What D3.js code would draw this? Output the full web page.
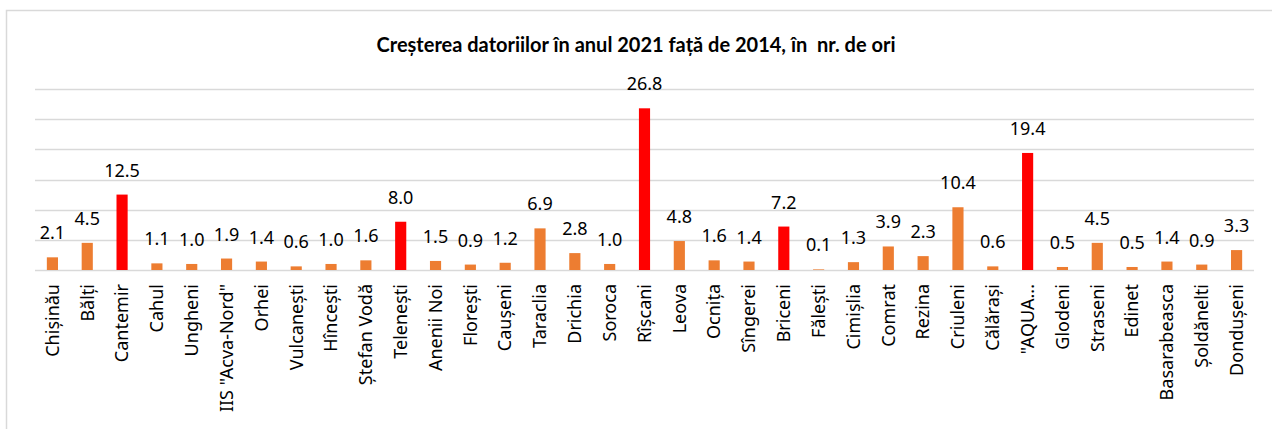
<!DOCTYPE html>
<html>
<head>
<meta charset="utf-8">
<script src="https://cdn.jsdelivr.net/npm/d3@7"></script>
<style>
  html, body { margin: 0; padding: 0; background: #fff; }
  svg { display: block; }
</style>
</head>
<body>
<svg id="chart" width="1272" height="429"></svg>
<script>
// Debt growth 2021 vs 2014, times (by water operator)
const categories = [
  "Chișinău", "Bălți", "Cantemir", "Cahul", "Ungheni", "IIS \"Acva-Nord\"", "Orhei",
  "Vulcanești", "Hîncești", "Ștefan Vodă", "Telenești", "Anenii Noi", "Florești",
  "Caușeni", "Taraclia", "Drichia", "Soroca", "Rîșcani", "Leova", "Ocnița", "Sîngerei",
  "Briceni", "Fălești", "Cimișlia", "Comrat", "Rezina", "Criuleni", "Călărași",
  "\"AQUA...", "Glodeni", "Straseni", "Edinet", "Basarabeasca", "Șoldănelti", "Dondușeni"
];
const values = [
  2.1, 4.5, 12.5, 1.1, 1.0, 1.9, 1.4,
  0.6, 1.0, 1.6, 8.0, 1.5, 0.9,
  1.2, 6.9, 2.8, 1.0, 26.8, 4.8, 1.6, 1.4,
  7.2, 0.1, 1.3, 3.9, 2.3, 10.4, 0.6,
  19.4, 0.5, 4.5, 0.5, 1.4, 0.9, 3.3
];
// Operators highlighted in red
const highlighted = ["Cantemir", "Telenești", "Rîșcani", "Briceni", "\"AQUA..."];
const yTicks = [0, 5, 10, 15, 20, 25, 30];
const title = "Creșterea datoriilor în anul 2021 față de 2014, în  nr. de ori";

const svg = d3.select("#chart");
const W = 1272, H = 429;
const plot = { left: 35, right: 1254, top: 89, bottom: 270 };
const labelFont = "'Noto Sans', 'Open Sans', sans-serif";

// Chart frame
svg.append("rect")
  .attr("x", 6.5).attr("y", 10.5)
  .attr("width", W + 10).attr("height", H + 10)
  .attr("fill", "#fff")
  .attr("stroke", "#d9d9d9").attr("stroke-width", 1.5);

const x = d3.scaleBand()
  .domain(categories)
  .range([plot.left, plot.right])
  .paddingInner(0.68).paddingOuter(0.34);

const y = d3.scaleLinear()
  .domain([0, 30])
  .range([plot.bottom, plot.top]);

// Horizontal gridlines
svg.append("g")
  .selectAll("line")
  .data(yTicks)
  .join("line")
  .attr("x1", plot.left).attr("x2", plot.right)
  .attr("y1", d => Math.round(y(d)) + 0.5).attr("y2", d => Math.round(y(d)) + 0.5)
  .attr("stroke", "#d9d9d9").attr("stroke-width", 1.5);

// Title
svg.append("text")
  .attr("x", 636).attr("y", 52)
  .attr("text-anchor", "middle")
  .attr("font-family", "Lato, 'Open Sans', sans-serif")
  .attr("font-weight", "bold")
  .attr("font-size", 20)
  .attr("fill", "#000")
  .style("white-space", "pre")
  .text(title);

// Bars
svg.append("g")
  .selectAll("rect")
  .data(categories)
  .join("rect")
  .attr("x", d => x(d))
  .attr("width", x.bandwidth())
  .attr("y", (d, i) => y(values[i]))
  .attr("height", (d, i) => y(0) - y(values[i]))
  .attr("fill", d => highlighted.includes(d) ? "#ff0000" : "#ed7d31");

// Value labels
svg.append("g")
  .selectAll("text")
  .data(categories)
  .join("text")
  .attr("x", d => x(d) + x.bandwidth() / 2)
  .attr("y", (d, i) => y(values[i]) - 18)
  .attr("text-anchor", "middle")
  .attr("font-family", labelFont)
  .attr("font-size", 18)
  .attr("fill", "#000")
  .text((d, i) => values[i].toFixed(1));

// Category axis, labels rotated vertically
const xAxis = svg.append("g")
  .attr("transform", `translate(0,${plot.bottom})`)
  .call(d3.axisBottom(x).tickSize(0).tickPadding(0));
xAxis.attr("font-family", labelFont).attr("font-size", 18);
xAxis.select(".domain").remove();
xAxis.selectAll(".tick text")
  .attr("font-family", labelFont)
  .attr("font-size", 18)
  .attr("fill", "#000")
  .attr("text-anchor", "end")
  .attr("dy", "0.35em")
  .attr("transform", "translate(0,14) rotate(-90)")
  .attr("x", 0).attr("y", 0);
</script>
</body>
</html>
